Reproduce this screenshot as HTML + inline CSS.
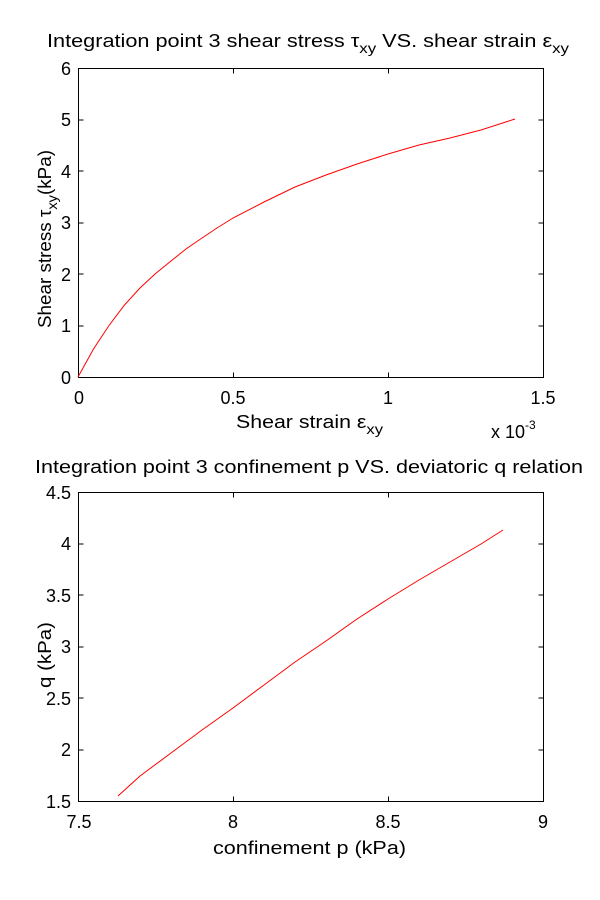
<!DOCTYPE html>
<html><head><meta charset="utf-8"><style>body{margin:0;background:#fff}svg{display:block}text{font-family:"Liberation Sans",Arial,sans-serif;fill:#000}</style></head>
<body>
<svg width="600" height="900" xmlns="http://www.w3.org/2000/svg">
<rect width="600" height="900" fill="#fff"/>
<!-- Top plot -->
<text x="47" y="47" font-size="18" textLength="522" lengthAdjust="spacingAndGlyphs">Integration point 3 shear stress τ<tspan font-size="14" dy="6">xy</tspan><tspan dy="-6"> VS. shear strain ε</tspan><tspan font-size="14" dy="6">xy</tspan></text>
<rect x="78.5" y="68.5" width="465" height="309" fill="none" stroke="#000"/>
<g stroke="#000">
<line x1="78.5" y1="326" x2="83.5" y2="326"/><line x1="78.5" y1="274" x2="83.5" y2="274"/><line x1="78.5" y1="223" x2="83.5" y2="223"/><line x1="78.5" y1="171" x2="83.5" y2="171"/><line x1="78.5" y1="120" x2="83.5" y2="120"/>
<line x1="543.5" y1="326" x2="538.5" y2="326"/><line x1="543.5" y1="274" x2="538.5" y2="274"/><line x1="543.5" y1="223" x2="538.5" y2="223"/><line x1="543.5" y1="171" x2="538.5" y2="171"/><line x1="543.5" y1="120" x2="538.5" y2="120"/>
<line x1="233.5" y1="377.5" x2="233.5" y2="372.5"/><line x1="388.5" y1="377.5" x2="388.5" y2="372.5"/>
<line x1="233.5" y1="68.5" x2="233.5" y2="73.5"/><line x1="388.5" y1="68.5" x2="388.5" y2="73.5"/>
</g>
<g font-size="18" text-anchor="end">
<text x="71" y="384">0</text><text x="71" y="332">1</text><text x="71" y="281">2</text><text x="71" y="229">3</text><text x="71" y="178">4</text><text x="71" y="126">5</text><text x="71" y="75">6</text>
</g>
<g font-size="18" text-anchor="middle">
<text x="79" y="404">0</text><text x="233" y="404">0.5</text><text x="388" y="404">1</text><text x="543" y="404">1.5</text>
</g>
<text x="491" y="438" font-size="18">x 10<tspan font-size="12" dy="-9">-3</tspan></text>
<text x="236" y="428" font-size="18" textLength="147" lengthAdjust="spacingAndGlyphs">Shear strain ε<tspan font-size="14" dy="6">xy</tspan></text>
<text transform="translate(51,328) rotate(-90)" font-size="18" textLength="178" lengthAdjust="spacingAndGlyphs">Shear stress τ<tspan font-size="14" dy="6">xy</tspan><tspan dy="-6">(kPa)</tspan></text>
<polyline fill="none" stroke="#f00" stroke-width="1" points="78,377 93.5,349 109,325.5 124.5,305 140,288 155,274 171,261 186,249 202,238 217,228 233,218 264,202 295,187 326,175 357,164 388,154 419,145 450,138 481,130 515,119"/>
<!-- Bottom plot -->
<text x="35" y="473" font-size="18" textLength="548" lengthAdjust="spacingAndGlyphs">Integration point 3 confinement p VS. deviatoric q relation</text>
<rect x="78.5" y="492.5" width="465" height="309" fill="none" stroke="#000"/>
<g stroke="#000">
<line x1="78.5" y1="750" x2="83.5" y2="750"/><line x1="78.5" y1="698" x2="83.5" y2="698"/><line x1="78.5" y1="647" x2="83.5" y2="647"/><line x1="78.5" y1="595" x2="83.5" y2="595"/><line x1="78.5" y1="544" x2="83.5" y2="544"/>
<line x1="543.5" y1="750" x2="538.5" y2="750"/><line x1="543.5" y1="698" x2="538.5" y2="698"/><line x1="543.5" y1="647" x2="538.5" y2="647"/><line x1="543.5" y1="595" x2="538.5" y2="595"/><line x1="543.5" y1="544" x2="538.5" y2="544"/>
<line x1="233.5" y1="801.5" x2="233.5" y2="796.5"/><line x1="388.5" y1="801.5" x2="388.5" y2="796.5"/>
<line x1="233.5" y1="492.5" x2="233.5" y2="497.5"/><line x1="388.5" y1="492.5" x2="388.5" y2="497.5"/>
</g>
<g font-size="18" text-anchor="end">
<text x="71" y="808">1.5</text><text x="71" y="756">2</text><text x="71" y="705">2.5</text><text x="71" y="653">3</text><text x="71" y="602">3.5</text><text x="71" y="550">4</text><text x="71" y="499">4.5</text>
</g>
<g font-size="18" text-anchor="middle">
<text x="79" y="828">7.5</text><text x="233" y="828">8</text><text x="388" y="828">8.5</text><text x="543" y="828">9</text>
</g>
<text x="213" y="854" font-size="18" textLength="193" lengthAdjust="spacingAndGlyphs">confinement p (kPa)</text>
<text transform="translate(51,688) rotate(-90)" font-size="18" textLength="66" lengthAdjust="spacingAndGlyphs">q (kPa)</text>
<polyline fill="none" stroke="#f00" stroke-width="1" points="118,796 140,776 171,753 202,730 233,708 264,685 295,662 326,641 357,619 388,599 419,580 450,562 481,544 503,530"/>
</svg>
</body></html>
